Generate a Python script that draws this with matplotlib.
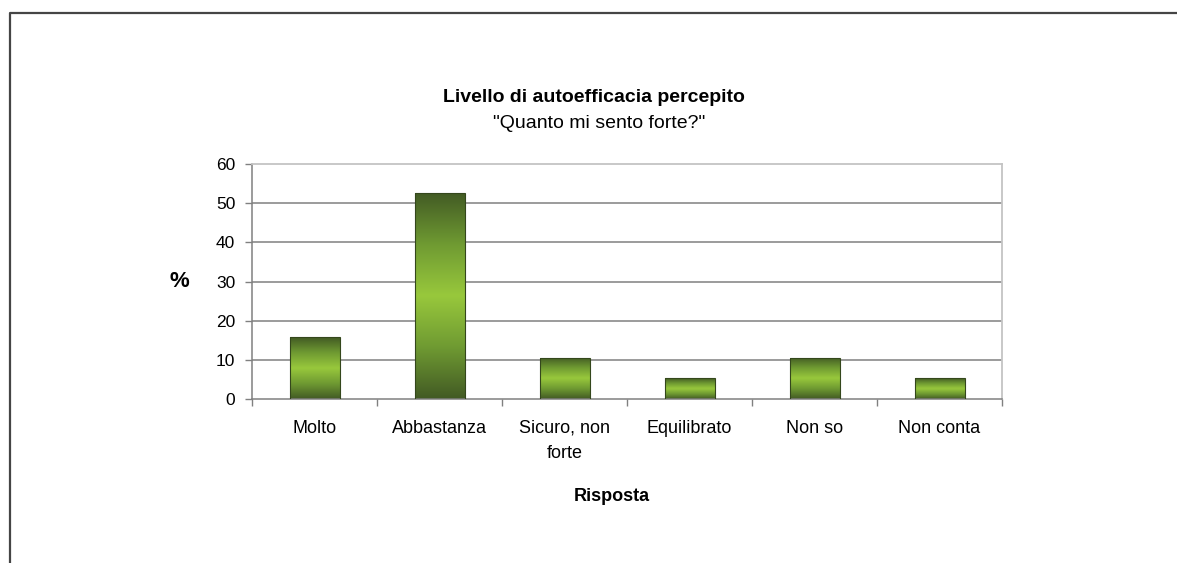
import numpy as np
import matplotlib.pyplot as plt
from matplotlib.colors import LinearSegmentedColormap
from matplotlib.lines import Line2D

plt.rcParams['font.family'] = ['Liberation Sans', 'DejaVu Sans']

risposte = ["Molto", "Abbastanza", "Sicuro, non\nforte", "Equilibrato", "Non so", "Non conta"]
percentuali = [15.8, 52.6, 10.5, 5.3, 10.5, 5.3]
y_ticks = [0, 10, 20, 30, 40, 50, 60]

W, H = 1177, 563
fig = plt.figure(figsize=(W / 100, H / 100), dpi=100)
fig.patch.set_facecolor("white")

# plot area in pixel coordinates
left, right, top, bottom = 252, 1002, 164, 399
ax = fig.add_axes([left / W, 1 - bottom / H, (right - left) / W, (bottom - top) / H])

x = np.arange(len(risposte))
bars = ax.bar(x, percentuali, width=0.4, color="none", edgecolor="#34471c", linewidth=0.8, zorder=3)

# vertical gradient: dark at the ends, bright green in the middle
cmap = LinearSegmentedColormap.from_list(
    "verde", ["#425a24", "#6f9a32", "#98c83c", "#6f9a32", "#425a24"])
grad = np.linspace(0, 1, 256).reshape(-1, 1)
for b in bars:
    x0, w, h = b.get_x(), b.get_width(), b.get_height()
    im = ax.imshow(grad, cmap=cmap, aspect="auto", extent=(x0, x0 + w, 0, h),
                   origin="lower", zorder=2, interpolation="bicubic")
    im.set_clip_path(b)

ax.set_xlim(-0.5, len(risposte) - 0.5)
ax.set_ylim(0, 60)
ax.set_yticks(y_ticks)
ax.set_yticklabels([str(t) for t in y_ticks], fontsize=12.5)

# category labels on minor ticks, tick marks between categories
ax.set_xticks(np.arange(len(risposte) + 1) - 0.5)
ax.set_xticklabels([])
ax.set_xticks(x, minor=True)
ax.set_xticklabels(risposte, minor=True, fontsize=13, linespacing=1.6, va="top")
ax.tick_params(axis="x", which="minor", length=0, pad=15)
ax.tick_params(axis="x", which="major", length=5, color="#808080", width=1)
ax.tick_params(axis="y", length=5, color="#808080", width=1, pad=7)

for yv in y_ticks[1:-1]:
    ax.axhline(yv, color="#808080", linewidth=1.1, zorder=1)

for s in ["left", "bottom"]:
    ax.spines[s].set_color("#808080")
    ax.spines[s].set_linewidth(1.1)
for s in ["top", "right"]:
    ax.spines[s].set_color("#c4c4c4")
    ax.spines[s].set_linewidth(1.3)

ax.set_xlabel("Risposta", fontsize=13, fontweight="bold", labelpad=18)
ax.xaxis.set_label_coords(0.48, -0.38)
ax.set_ylabel("%", fontsize=16, fontweight="bold", rotation=0, labelpad=26, va="center")

fig.text(594 / W, 1 - 97 / H, "Livello di autoefficacia percepito",
         ha="center", va="center", fontsize=14, fontweight="bold")
fig.text(599 / W, 1 - 123 / H, '"Quanto mi sento forte?"',
         ha="center", va="center", fontsize=14)

# outer frame (left and top edges)
fx = np.array([10, 10, W]) / W
fy = 1 - np.array([H, 13, 13]) / H
fig.add_artist(Line2D(fx, fy, color="#454545", linewidth=1.6, transform=fig.transFigure))

fig.savefig("out.png", dpi=100)
